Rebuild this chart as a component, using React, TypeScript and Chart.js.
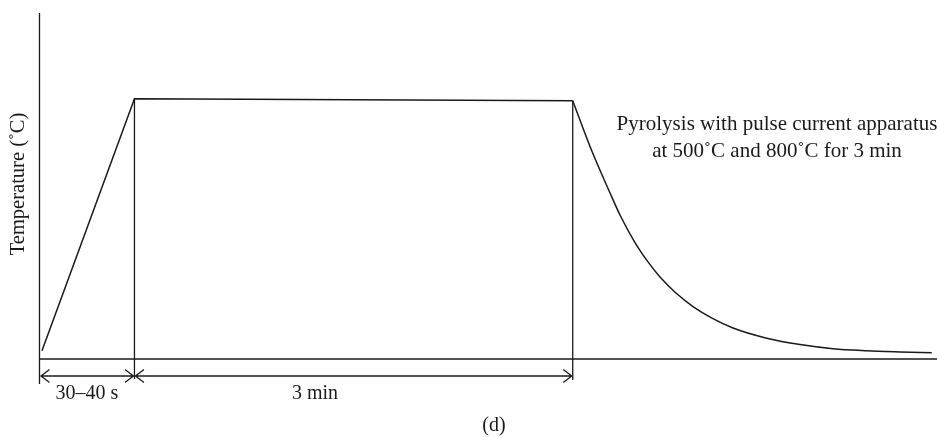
import React, { useEffect, useRef } from "react";
import { Chart, registerables } from "chart.js";

Chart.register(...registerables);

// Schematic time axis (arbitrary units 0–100) and relative temperature (0–100)
const rampX = [0.22, 10.53, 59.39];
const rampY = [2.4, 75.2, 74.65];
const decayX = [59.39, 61.43, 63.55, 64.66, 66.33, 67.78, 69.12, 70.9, 72.8, 74.92, 77.26, 81.02, 84.73, 88.41, 92.16, 95.88, 99.41];
const decayY = [74.65, 60.69, 47.98, 41.62, 33.64, 28.06, 23.7, 19.08, 15.17, 11.82, 8.96, 6.01, 4.16, 2.98, 2.4, 2.05, 1.79];

const yAxisLabel = "Temperature (˚C)";
const intervalLabels = ["30–40 s", "3 min"];
const annotationLines = ["Pyrolysis with pulse current apparatus", "at 500˚C and 800˚C for 3 min"];
const panelLabel = "(d)";

const INK = "#1a1a1a";
const FONT = "'Liberation Serif', 'DejaVu Serif', serif";

const overlay = {
  id: "schematicOverlay",
  afterDatasetsDraw(chart: any) {
    const { ctx, chartArea, scales } = chart;
    const xs = scales.x;
    const ys = scales.y;
    const left = chartArea.left;
    const bottom = chartArea.bottom;
    const peakPx = xs.getPixelForValue(rampX[1]);
    const endPx = xs.getPixelForValue(rampX[2]);
    const arrowY = bottom + 17;

    ctx.save();
    ctx.strokeStyle = INK;
    ctx.lineWidth = 1.3;
    // axes
    ctx.beginPath();
    ctx.moveTo(left - 0.5, chartArea.top);
    ctx.lineTo(left - 0.5, bottom + 25);
    ctx.moveTo(left, bottom);
    ctx.lineTo(chart.width, bottom);
    ctx.stroke();

    // vertical markers
    ctx.beginPath();
    ctx.moveTo(peakPx, ys.getPixelForValue(rampY[1]));
    ctx.lineTo(peakPx, bottom + 20);
    ctx.moveTo(endPx, ys.getPixelForValue(rampY[2]));
    ctx.lineTo(endPx, bottom + 21);
    ctx.stroke();

    // dimension arrows
    const arrow = (x1: number, x2: number) => {
      ctx.beginPath();
      ctx.moveTo(x1, arrowY);
      ctx.lineTo(x2, arrowY);
      ctx.moveTo(x1 + 8.5, arrowY - 6.5);
      ctx.lineTo(x1, arrowY);
      ctx.lineTo(x1 + 8.5, arrowY + 6.5);
      ctx.moveTo(x2 - 8.5, arrowY - 6.5);
      ctx.lineTo(x2, arrowY);
      ctx.lineTo(x2 - 8.5, arrowY + 6.5);
      ctx.stroke();
    };
    arrow(left + 1, peakPx - 1);
    arrow(peakPx + 1, endPx - 1);

    // texts
    ctx.fillStyle = INK;
    ctx.textAlign = "center";
    ctx.textBaseline = "alphabetic";
    ctx.font = `20px ${FONT}`;
    ctx.fillText(intervalLabels[0], 87, bottom + 40);
    ctx.fillText(intervalLabels[1], 315, bottom + 40);
    ctx.fillText(panelLabel, 494, bottom + 72);
    ctx.font = `21px ${FONT}`;
    ctx.fillText(annotationLines[0], 777, 130);
    ctx.fillText(annotationLines[1], 777, 157);

    ctx.font = `20.5px ${FONT}`;
    ctx.save();
    ctx.translate(24, 184);
    ctx.rotate(-Math.PI / 2);
    ctx.fillText(yAxisLabel, 0, 0);
    ctx.restore();
    ctx.restore();
  },
};

export default function App() {
  const ref = useRef<HTMLCanvasElement | null>(null);
  useEffect(() => {
    if (!ref.current) return;
    const chart = new Chart(ref.current, {
      type: "line",
      data: {
        datasets: [
          {
            data: rampX.map((x, i) => ({ x, y: rampY[i] })),
            borderColor: INK,
            borderWidth: 1.5,
            pointRadius: 0,
            tension: 0,
          },
          {
            data: decayX.map((x, i) => ({ x, y: decayY[i] })),
            borderColor: INK,
            borderWidth: 1.5,
            pointRadius: 0,
            cubicInterpolationMode: "monotone",
          },
        ],
      },
      options: {
        responsive: false,
        animation: false,
        layout: { padding: { left: 40, right: 0, top: 13, bottom: 78 } },
        plugins: { legend: { display: false }, tooltip: { enabled: false } },
        scales: {
          x: { type: "linear", min: 0, max: 100, display: false },
          y: { type: "linear", min: 0, max: 100, display: false },
        },
      },
      plugins: [overlay],
    } as any);
    return () => chart.destroy();
  }, []);
  return (
    <div style={{ position: "absolute", left: 0, top: 0, width: 937, height: 437, background: "#fff" }}>
      <canvas ref={ref} width={937} height={437} />
    </div>
  );
}
